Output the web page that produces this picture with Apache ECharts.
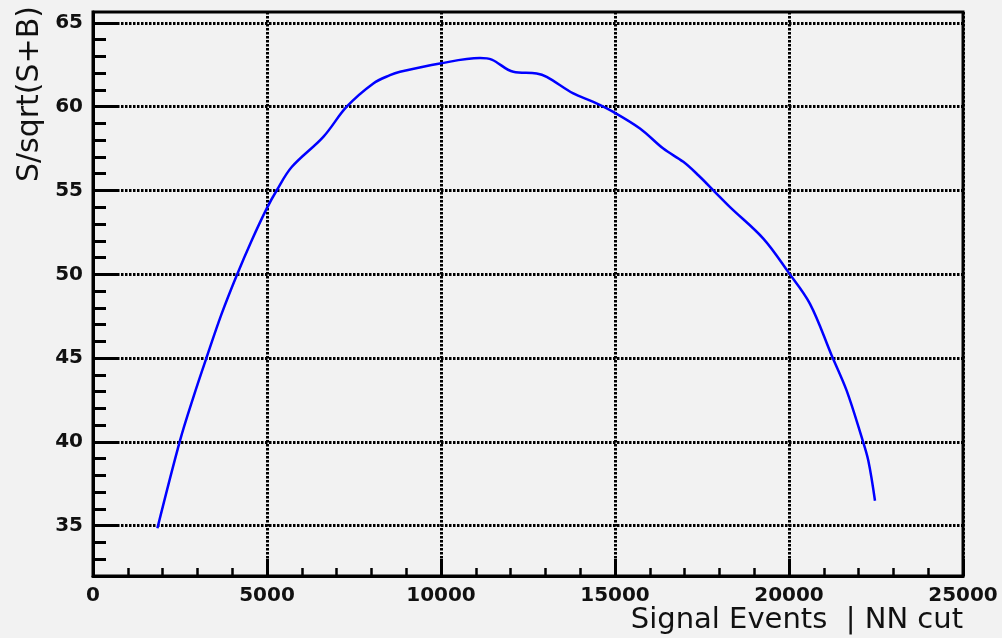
<!DOCTYPE html>
<html>
<head>
<meta charset="utf-8">
<title>S/sqrt(S+B) vs signal events</title>
<script src="https://cdn.jsdelivr.net/npm/echarts@6/dist/echarts.min.js"></script>
<style>
  html, body { margin: 0; padding: 0; background: #f2f2f2; }
  #chart { width: 1002px; height: 638px; }
</style>
</head>
<body>
<div id="chart"></div>
<script>
// Signal events surviving the NN cut
const signalEvents = [1850, 2500, 2883, 3266, 3698, 4129, 4560, 4990, 5277, 5710, 6618, 7290,
  8055, 8534, 8822, 9971, 11121, 11457, 12078, 12750, 13037, 13802, 14377, 14951, 15718,
  16388, 16963, 17394, 17874, 18305, 19262, 19980, 20603, 21227, 21657, 22088, 22280, 22471];
// Significance S/sqrt(S+B) at each cut
const significance = [34.85, 40.08, 42.66, 45.05, 47.65, 49.93, 52.02, 53.92, 55.0, 56.4, 58.2, 60.0,
  61.39, 61.88, 62.08, 62.58, 62.9, 62.81, 62.08, 61.98, 61.78, 60.79, 60.29, 59.69, 58.7,
  57.5, 56.71, 55.91, 54.91, 54.01, 52.13, 50.13, 48.24, 45.16, 43.06, 40.28, 38.88, 36.49];

// Axis ticks
const yMajorTicks = [35, 40, 45, 50, 55, 60, 65];
const yMinorTicks = [33, 34, 36, 37, 38, 39, 41, 42, 43, 44, 46, 47, 48, 49, 51, 52, 53, 54,
  56, 57, 58, 59, 61, 62, 63, 64];

const xTitle = 'Signal Events  | NN cut';
const yTitle = 'S/sqrt(S+B)';

const points = signalEvents.map((x, i) => [x, significance[i]]);

const FONT = 'DejaVu Sans';
const dotted = { color: '#000', width: 3, type: [2.5, 1.5] };
const tickFont = { color: '#111', fontFamily: FONT, fontWeight: 'bold', fontSize: 20 };

const chart = echarts.init(document.getElementById('chart'), null, { renderer: 'canvas' });
chart.setOption({
  animation: false,
  backgroundColor: '#f2f2f2',
  textStyle: { fontFamily: FONT, fontSize: 20 },
  grid: {
    left: 93, right: 39, top: 12, bottom: 62,
    show: true, borderColor: '#000', borderWidth: 3, backgroundColor: 'transparent'
  },
  xAxis: {
    type: 'value', min: 0, max: 25000, interval: 5000,
    axisLine: { show: true, lineStyle: { color: '#000', width: 3 } },
    axisTick: { show: true, inside: true, length: 17, lineStyle: { color: '#000', width: 3 } },
    minorTick: { show: true, splitNumber: 5, length: 8, lineStyle: { color: '#000', width: 2.5 } },
    splitLine: { show: true, lineStyle: dotted },
    axisLabel: Object.assign({ margin: 10, formatter: v => String(v) }, tickFont)
  },
  yAxis: [{
    type: 'value', min: 32, max: 65.65,
    axisLine: { show: true, lineStyle: { color: '#000', width: 3 } },
    axisTick: { show: true, inside: true, length: 26, customValues: yMajorTicks,
      lineStyle: { color: '#000', width: 3 } },
    splitLine: { show: true, lineStyle: dotted },
    axisLabel: Object.assign({ customValues: yMajorTicks, margin: 10, formatter: v => String(v) }, tickFont)
  }, {
    type: 'value', min: 32, max: 65.65, position: 'left',
    axisLine: { show: false },
    axisTick: { show: true, inside: true, length: 13, customValues: yMinorTicks,
      lineStyle: { color: '#000', width: 3 } },
    splitLine: { show: false },
    axisLabel: { show: false }
  }],
  graphic: [{
    type: 'text', right: 39, top: 606,
    style: { text: xTitle, fill: '#111', font: '29px "DejaVu Sans"' }
  }, {
    type: 'text', x: 30, y: 6, rotation: Math.PI / 2,
    style: { text: yTitle, fill: '#111', font: '30px "DejaVu Sans"',
      textAlign: 'right', textVerticalAlign: 'middle' }
  }],
  series: [{
    type: 'line', xAxisIndex: 0, yAxisIndex: 0,
    data: points, showSymbol: false, smooth: 0.35,
    lineStyle: { color: '#0000ff', width: 2.5 }
  }]
});
</script>
</body>
</html>
